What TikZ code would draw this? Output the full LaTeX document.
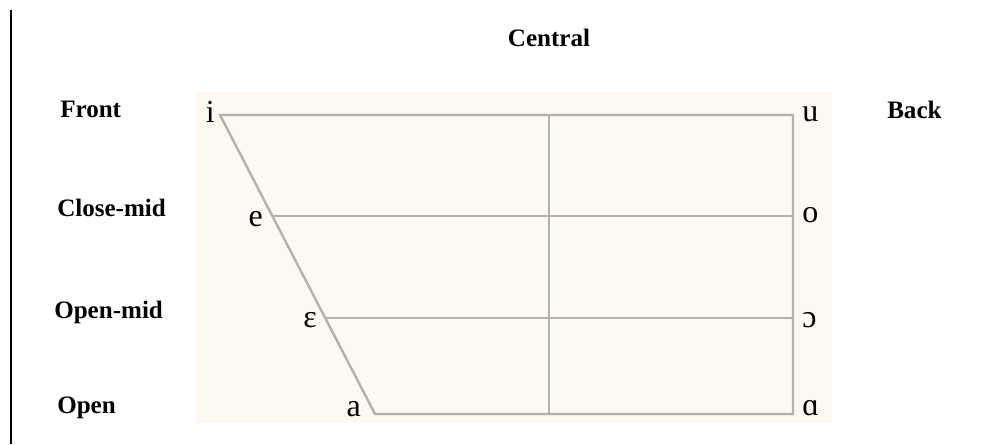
\documentclass[tikz,border=0pt]{standalone}
\usepackage{fontspec}
\setmainfont{Liberation Serif}
\definecolor{chartbg}{RGB}{253,249,242}
\definecolor{linegray}{RGB}{180,176,170}

\begin{document}
\begin{tikzpicture}[x=0.75pt,y=-0.75pt,every node/.style={inner sep=0pt},
   hdr/.style={font=\fontsize{18.8}{21}\selectfont\bfseries},
   vow/.style={font=\fontsize{24}{26}\selectfont},
   chart/.style={draw=linegray,line width=1.8pt,line join=miter}]
  \fill[white] (0,0) rectangle (981,444);
  \useasboundingbox (0,0) rectangle (981,444);
  % left rule and chart background
  \coordinate (rtop) at (11,10); \coordinate (rbot) at (11,444);
  \draw[black,line width=0.8pt] (rtop)--(rbot);
  \fill[chartbg] (196,92) rectangle (832,423);
  % corners of the chart
  \coordinate (ci) at (220,115); \coordinate (cu) at (793,115);
  \coordinate (ce) at (272,216); \coordinate (co) at (793,216);
  \coordinate (ceps) at (325,318); \coordinate (coo) at (793,318);
  \coordinate (ca) at (375,414); \coordinate (caa) at (793,414);
  \coordinate (ctop) at (549,115); \coordinate (cbot) at (549,414);
  % headings
  \node[hdr,anchor=base] (central) at (549,46) {Central};
  \node[hdr,anchor=base west] (front) at (60,117) {Front};
  \node[hdr,anchor=base west] (back) at (887,118) {Back};
  \node[hdr,anchor=base west] (closemid) at (57,216) {Close-mid};
  \node[hdr,anchor=base west] (openmid) at (54,318) {Open-mid};
  \node[hdr,anchor=base west] (open) at (57,413) {Open};
  % vowels
  \node[vow,anchor=base east] (vi) at (215,122) {i};
  \node[vow,anchor=base east] (ve) at (263,226) {e};
  \node[vow,anchor=base east] (veps) at (317,327) {ɛ};
  \node[vow,anchor=base east] (va) at (361,416) {a};
  \node[vow,anchor=base west] (vu) at (802,121) {u};
  \node[vow,anchor=base west] (vo) at (802,222) {o};
  \node[vow,anchor=base west] (voo) at (802,327) {ɔ};
  \node[vow,anchor=base west] (vaa) at (802,415) {ɑ};
  % chart lines
  \draw[chart] (ci)--(cu)--(caa)--(ca)--cycle;
  \foreach \l/\r in {ce/co,ceps/coo} {\draw[chart] (\l)--(\r);}
  \draw[chart] (ctop)--(cbot);
\end{tikzpicture}
\end{document}
